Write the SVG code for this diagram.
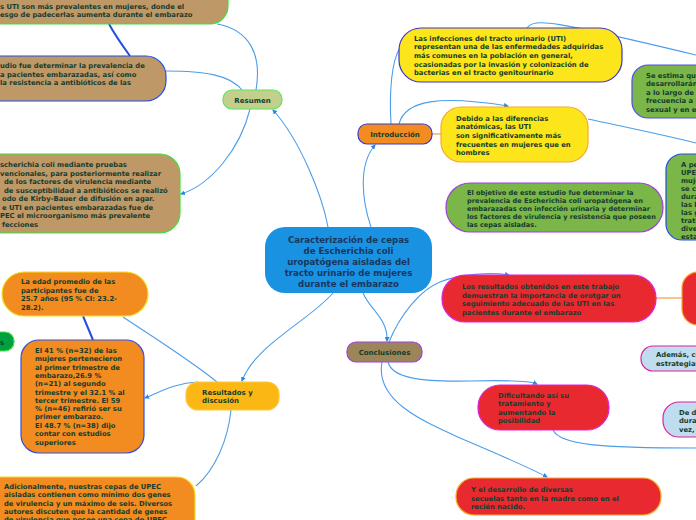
<svg xmlns="http://www.w3.org/2000/svg" width="696" height="520" viewBox="0 0 696 520">
<defs>
<marker id="ah" viewBox="0 0 10 10" refX="8" refY="5" markerWidth="5" markerHeight="5" orient="auto-start-reverse" markerUnits="userSpaceOnUse">
<path d="M0,0 L10,5 L0,10 z" fill="#2f86e0"/>
</marker>
<style>
.c{fill:none;stroke:#4d9de8;stroke-width:1.1}
.d{fill:none;stroke:#1f4fe0;stroke-width:2}
.o{fill:none;stroke:#f7c58a;stroke-width:2}
.t{font-family:"DejaVu Sans",Verdana,sans-serif;font-weight:bold;font-size:6.8px;fill:#163c2c}
.s67 .t{font-size:6.6px}
.h{font-family:"DejaVu Sans",Verdana,sans-serif;font-weight:bold;font-size:7px;fill:#163c2c}
.m{font-family:"DejaVu Sans",Verdana,sans-serif;font-weight:bold;font-size:8.6px;fill:#17375e;text-anchor:middle}
.brown{fill:#bf9868}
.org{fill:#f28c20}
.yel{fill:#fce51a}
.grn{fill:#7ab648}
.red{fill:#e82a30}
.lb{fill:#c0dcef}
</style>
</defs>
<rect width="696" height="520" fill="#ffffff"/>

<g id="connectors">
<path class="c" d="M328,227 C322,195 300,140 273,110" marker-end="url(#ah)"/>
<path class="c" d="M371,227 C362,200 358,165 375,145" marker-end="url(#ah)"/>
<path class="c" d="M363,293 C370,310 388,318 387,341" marker-end="url(#ah)"/>
<path class="c" d="M333,293 C310,320 255,345 242,381" marker-end="url(#ah)"/>
<path class="c" d="M250,109 C240,150 210,185 181,194" marker-end="url(#ah)"/>
<path class="c" d="M256,90 C262,55 250,30 217,24"/>
<path class="c" d="M242,90 C230,75 205,71 166,71"/>
<path class="d" d="M109,24 C115,35 122,45 130,56"/>
<path class="c" d="M391,124 C389,90 392,60 400,48"/>
<path class="c" d="M399,124 C405,100 440,95 508,106" marker-end="url(#ah)"/>
<path class="o" d="M432,134 L441,134"/>
<path class="c" d="M527,28 C535,18 550,20 696,55"/>
<path class="c" d="M588,119 C620,126 660,134 696,143"/>
<path class="c" d="M389,342 C400,315 420,290 440,282 C460,274 490,272 509,275" marker-end="url(#ah)"/>
<path class="c" d="M388,362 C392,378 420,382 470,381 C510,380 530,381 537,384" marker-end="url(#ah)"/>
<path class="c" d="M382,362 C375,400 420,420 460,438 C500,455 530,468 547,477" marker-end="url(#ah)"/>
<path class="c" d="M553,430 C560,445 600,448 696,448"/>
<path class="o" d="M656,298 L682,298"/>
<path class="c" d="M217,382 C190,360 150,335 123,317"/>
<path class="c" d="M198,382 C175,383 160,392 145,398" marker-end="url(#ah)"/>
<path class="d" d="M83,316 L93,340"/>
<path class="c" d="M231,410 C228,440 215,470 196,486"/>
</g>

<g id="central">
<rect x="265" y="227" width="167" height="66" rx="20" fill="#1a92e2"/>
<text class="m" x="348.5" y="242.5">Caracterización de cepas</text>
<text class="m" x="348.5" y="253.5">de Escherichia coli</text>
<text class="m" x="348.5" y="265">uropatógena aisladas del</text>
<text class="m" x="348.5" y="276">tracto urinario de mujeres</text>
<text class="m" x="348.5" y="287">durante el embarazo</text>
</g>

<g id="resumen">
<rect x="223" y="90" width="59" height="19" rx="9" fill="#c3cf8d" stroke="#5ee35e" stroke-width="1.2"/>
<text class="h" x="252.5" y="102.5" text-anchor="middle">Resumen</text>
</g>

<g id="introduccion">
<rect x="358" y="124" width="74" height="20" rx="9" class="org" stroke="#3b3bcc" stroke-width="1.2"/>
<text class="h" x="395" y="137" text-anchor="middle">Introducción</text>
</g>

<g id="conclusiones">
<rect x="347" y="342" width="75" height="20" rx="9" fill="#9c8558" stroke="#a040e0" stroke-width="1.2"/>
<text class="h" x="384.5" y="355" text-anchor="middle">Conclusiones</text>
</g>

<g id="resultados">
<rect x="186" y="382" width="93" height="28" rx="12" fill="#fbb814" stroke="#fcc63c" stroke-width="1.2"/>
<text class="h" x="202" y="394.5">Resultados y</text>
<text class="h" x="202" y="402.5">discusión</text>
</g>

<g id="res-prevalentes">
<rect x="-60" y="-20" width="288" height="44" rx="18" class="brown" stroke="#3de03d" stroke-width="1.2"/>
<text class="t" x="0" y="8.5">s UTI son más prevalentes en mujeres, donde el</text>
<text class="t" x="0" y="17">esgo de padecerlas aumenta durante el embarazo</text>
</g>

<g id="res-objetivo">
<rect x="-60" y="56" width="226" height="45" rx="20" class="brown" stroke="#2050e0" stroke-width="1.2"/>
<text class="t" x="0" y="68">udio fue determinar la prevalencia de</text>
<text class="t" x="0" y="76.5">a pacientes embarazadas, así como</text>
<text class="t" x="0" y="85">la resistencia a antibióticos de las</text>
</g>

<g id="res-metodo">
<rect x="-60" y="154" width="240" height="79" rx="20" class="brown" stroke="#3de03d" stroke-width="1.2"/>
<text class="t" x="0" y="167">scherichia coli mediante pruebas</text>
<text class="t" x="0" y="175.5">vencionales, para posteriormente realizar</text>
<text class="t" x="4" y="184">de los factores de virulencia mediante</text>
<text class="t" x="4" y="192.5">de susceptibilidad a antibióticos se realizó</text>
<text class="t" x="2" y="201">odo de Kirby-Bauer de difusión en agar.</text>
<text class="t" x="2" y="209.5">e UTI en pacientes embarazadas fue de</text>
<text class="t" x="0" y="218">PEC el microorganismo más prevalente</text>
<text class="t" x="2" y="226.5">fecciones</text>
</g>

<g id="edad">
<rect x="2" y="272" width="146" height="44" rx="22" class="org" stroke="#f0e020" stroke-width="1.2"/>
<text class="t" x="21" y="284">La edad promedio de las</text>
<text class="t" x="21" y="292.5">participantes fue de</text>
<text class="t" x="21" y="301">25.7 años (95 % CI: 23.2-</text>
<text class="t" x="21" y="309.5">28.2).</text>
</g>

<g id="green-left">
<rect x="-20" y="332" width="34" height="19" rx="9" fill="#00a040" stroke="#40e040" stroke-width="1.2"/>
<text class="t" x="0" y="345">s</text>
</g>

<g id="trimestre">
<rect x="21" y="340" width="123" height="113" rx="18" class="org" stroke="#3050e0" stroke-width="1.2"/>
<text class="t" x="35" y="353">El 41 % (n=32) de las</text>
<text class="t" x="35" y="361.3">mujeres pertenecieron</text>
<text class="t" x="35" y="369.6">al primer trimestre de</text>
<text class="t" x="35" y="377.9">embarazo,26.9 %</text>
<text class="t" x="35" y="386.2">(n=21) al segundo</text>
<text class="t" x="35" y="394.5">trimestre y el 32.1 % al</text>
<text class="t" x="35" y="402.8">tercer trimestre. El 59</text>
<text class="t" x="35" y="411.1">% (n=46) refirió ser su</text>
<text class="t" x="35" y="419.4">primer embarazo.</text>
<text class="t" x="35" y="428">El 48.7 % (n=38) dijo</text>
<text class="t" x="35" y="436.3">contar con estudios</text>
<text class="t" x="35" y="444.6">superiores</text>
</g>

<g id="adicional">
<rect x="-20" y="477" width="215" height="60" rx="18" class="org" stroke="#f0e020" stroke-width="1.2"/>
<text class="t" x="4" y="489">Adicionalmente, nuestras cepas de UPEC</text>
<text class="t" x="4" y="497.3">aisladas contienen como mínimo dos genes</text>
<text class="t" x="4" y="505.6">de virulencia y un máximo de seis. Diversos</text>
<text class="t" x="4" y="513.9">autores discuten que la cantidad de genes</text>
<text class="t" x="4" y="522.2">de virulencia que posee una cepa de UPEC</text>
</g>

<g id="infecciones">
<rect x="399" y="28" width="223" height="54" rx="22" class="yel" stroke="#3e33d0" stroke-width="1.2"/>
<text class="t" x="414" y="40.5">Las infecciones del tracto urinario (UTI)</text>
<text class="t" x="414" y="49.2">representan una de las enfermedades adquiridas</text>
<text class="t" x="414" y="57.9">más comunes en la población en general,</text>
<text class="t" x="414" y="66.6">ocasionadas por la invasión y colonización de</text>
<text class="t" x="414" y="75.3">bacterias en el tracto genitourinario</text>
</g>

<g id="estima">
<rect x="632" y="65" width="100" height="53" rx="16" class="grn" stroke="#5050e0" stroke-width="1.2"/>
<text class="t" x="646" y="77.5">Se estima que e</text>
<text class="t" x="646" y="86">desarrollarán a</text>
<text class="t" x="646" y="94.5">a lo largo de su</text>
<text class="t" x="646" y="103">frecuencia a pa</text>
<text class="t" x="646" y="111.5">sexual y en el e</text>
</g>

<g id="debido">
<rect x="441" y="107" width="147" height="55" rx="20" class="yel" stroke="#f7a830" stroke-width="1.2"/>
<text class="t" x="456" y="121">Debido a las diferencias</text>
<text class="t" x="456" y="129">anatómicas, las UTI</text>
<text class="t" x="456" y="138">son significativamente más</text>
<text class="t" x="456" y="146.5">frecuentes en mujeres que en</text>
<text class="t" x="456" y="155">hombres</text>
</g>

<g id="objetivo" class="s67">
<rect x="446" y="183" width="217" height="49" rx="24" class="grn" stroke="#a040e0" stroke-width="1.2"/>
<text class="t" x="467" y="195">El objetivo de este estudio fue determinar la</text>
<text class="t" x="467" y="203">prevalencia de Escherichia coli uropatógena en</text>
<text class="t" x="467" y="211">embarazadas con infección urinaria y determinar</text>
<text class="t" x="467" y="219">los factores de virulencia y resistencia que poseen</text>
<text class="t" x="467" y="227">las cepas aisladas.</text>
</g>

<g id="a-pe">
<rect x="666" y="154" width="80" height="86" rx="16" class="grn" stroke="#2050e0" stroke-width="1.2"/>
<text class="t" x="681" y="167">A pe</text>
<text class="t" x="681" y="175">UPEC</text>
<text class="t" x="681" y="183">muje</text>
<text class="t" x="681" y="191">se co</text>
<text class="t" x="681" y="199">dura</text>
<text class="t" x="681" y="207">las b</text>
<text class="t" x="681" y="215">las g</text>
<text class="t" x="681" y="223">trata</text>
<text class="t" x="681" y="231">diver</text>
<text class="t" x="681" y="239">esta</text>
</g>

<g id="resultados-obtenidos">
<rect x="442" y="275" width="214" height="47" rx="23" class="red" stroke="#e020e0" stroke-width="1.2"/>
<text class="t" x="462" y="289">Los resultados obtenidos en este trabajo</text>
<text class="t" x="462" y="297.5">demuestran la importancia de orotgar un</text>
<text class="t" x="462" y="306">seguimiento adecuado de las UTI en las</text>
<text class="t" x="462" y="314.5">pacientes durante el embarazo</text>
</g>

<g id="red-right">
<rect x="682" y="272" width="60" height="53" rx="16" class="red" stroke="#f7a830" stroke-width="1.2"/>
</g>

<g id="ademas">
<rect x="641" y="346" width="80" height="25" rx="12" class="lb" stroke="#e020a0" stroke-width="1.2"/>
<text class="t" x="656" y="357">Además, cu</text>
<text class="t" x="656" y="365.5">estrategias</text>
</g>

<g id="de-d">
<rect x="663" y="402" width="60" height="35" rx="16" class="lb" stroke="#e020a0" stroke-width="1.2"/>
<text class="t" x="679" y="414.5">De d</text>
<text class="t" x="679" y="423">dura</text>
<text class="t" x="679" y="431.5">vez,</text>
</g>

<g id="dificultando">
<rect x="478" y="385" width="131" height="45" rx="22" class="red" stroke="#e020e0" stroke-width="1.2"/>
<text class="t" x="498" y="398">Dificultando así su</text>
<text class="t" x="498" y="406.3">tratamiento y</text>
<text class="t" x="498" y="414.6">aumentando la</text>
<text class="t" x="498" y="423">posibilidad</text>
</g>

<g id="desarrollo">
<rect x="456" y="478" width="205" height="37" rx="18" class="red" stroke="#f7a830" stroke-width="1.2"/>
<text class="t" x="471" y="492">Y el desarrollo de diversas</text>
<text class="t" x="471" y="500.5">secuelas tanto en la madre como en el</text>
<text class="t" x="471" y="509">recién nacido.</text>
</g>
</svg>
